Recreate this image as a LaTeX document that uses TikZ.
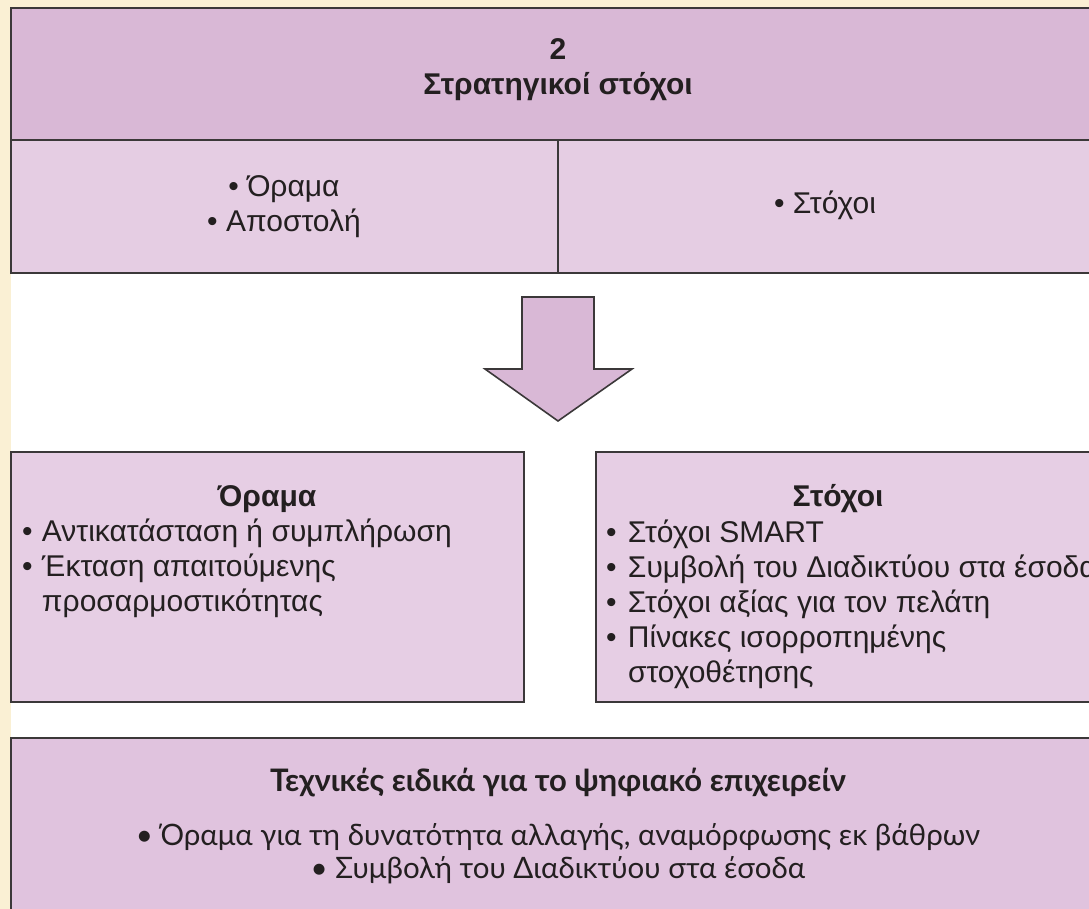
\documentclass[tikz,border=0pt]{standalone}
\usepackage{fontspec}
\setmainfont{Liberation Sans}
\newfontfamily\humanist{Lato}
\definecolor{cream}{HTML}{FAF0D4}
\definecolor{headfill}{HTML}{D9B8D6}
\definecolor{rowfill}{HTML}{E5CDE3}
\definecolor{cardfill}{HTML}{E6CEE4}
\definecolor{basefill}{HTML}{E0C3DE}
\definecolor{edge}{HTML}{3B3839}
\definecolor{ink}{HTML}{231F20}
\newcommand{\bul}[1]{\makebox[#1][l]{\textbullet}}
\begin{document}
\begin{tikzpicture}[x=1pt,y=-1pt,
  panel/.style={draw=edge,line width=2pt,rectangle,inner sep=0pt,outer sep=0pt,anchor=north west},
  txt/.style={inner sep=0pt,outer sep=0pt,text=ink,font=\fontsize{30}{35}\selectfont},
  soft/.style={inner sep=0pt,outer sep=0pt,text=ink,font=\humanist\fontsize{29.5}{33}\selectfont}]
\useasboundingbox (0,0) rectangle (1089,909);
\clip (0,0) rectangle (1089,909);
% page background: cream margin, white sheet
\fill[cream] (0,0) rectangle (1089,909);
\fill[white] (11,8) rectangle (1089,909);

% header band
\node[panel,fill=headfill,minimum width=1110pt,minimum height=132pt] (head) at (11,8) {};
\node[txt,font=\bfseries\fontsize{30}{35}\selectfont,anchor=base] (headtxt) at (558,60)
  {\begin{tabular}[t]{@{}c@{}}2\\Στρατηγικοί στόχοι\end{tabular}};

% second row, two cells
\node[panel,fill=rowfill,minimum width=547pt,minimum height=133pt] (cellL) at (11,140) {};
\node[panel,fill=rowfill,minimum width=560pt,minimum height=133pt] (cellR) at (558,140) {};
\node[txt,anchor=base] (cellLtxt) at (284,197)
  {\begin{tabular}[t]{@{}c@{}}\textbullet\ Όραμα\\\textbullet\ Αποστολή\end{tabular}};
\node[txt,anchor=base] (cellRtxt) at (825,214) {\textbullet\ Στόχοι};

% block arrow
\draw[draw=edge,line width=1.6pt,fill=headfill,line join=miter]
  (522,297) -- (594,297) -- (594,369) -- (632,369) -- (558,421)
  -- (485,369) -- (522,369) -- cycle;

% left card
\node[panel,fill=cardfill,minimum width=513pt,minimum height=250pt] (cardL) at (11,452) {};
\node[txt,font=\bfseries\fontsize{30}{35}\selectfont,anchor=base] (cardLhead) at (267,506) {Όραμα};
\node[txt,anchor=base west] (cardLlist) at (22,541)
  {\begin{tabular}[t]{@{}l@{}l@{}}\bul{20pt}&Αντικατάσταση ή συμπλήρωση\\
   \bul{20pt}&Έκταση απαιτούμενης\\
   &προσαρμοστικότητας\end{tabular}};

% right card
\node[panel,fill=cardfill,minimum width=530pt,minimum height=250pt] (cardR) at (596,452) {};
\node[txt,font=\bfseries\fontsize{30}{35}\selectfont,anchor=base] (cardRhead) at (838,506) {Στόχοι};
\node[txt,anchor=base west] (cardRlist) at (606,542)
  {\begin{tabular}[t]{@{}l@{}l@{}}\bul{22pt}&Στόχοι SMART\\
   \bul{22pt}&Συμβολή του Διαδικτύου στα έσοδα\\
   \bul{22pt}&Στόχοι αξίας για τον πελάτη\\
   \bul{22pt}&Πίνακες ισορροπημένης\\
   &στοχοθέτησης\end{tabular}};

% bottom band
\node[panel,fill=basefill,minimum width=1110pt,minimum height=200pt] (base) at (11,738) {};
\node[soft,font=\humanist\bfseries\fontsize{31}{35}\selectfont,anchor=base] (basehead) at (558,791)
  {Τεχνικές ειδικά για το ψηφιακό επιχειρείν};
\node[soft,anchor=base] (baselist) at (558,845)
  {\begin{tabular}[t]{@{}c@{}}\textbullet\ Όραμα για τη δυνατότητα αλλαγής, αναμόρφωσης εκ βάθρων\\
   \textbullet\ Συμβολή του Διαδικτύου στα έσοδα\end{tabular}};
\end{tikzpicture}
\end{document}
